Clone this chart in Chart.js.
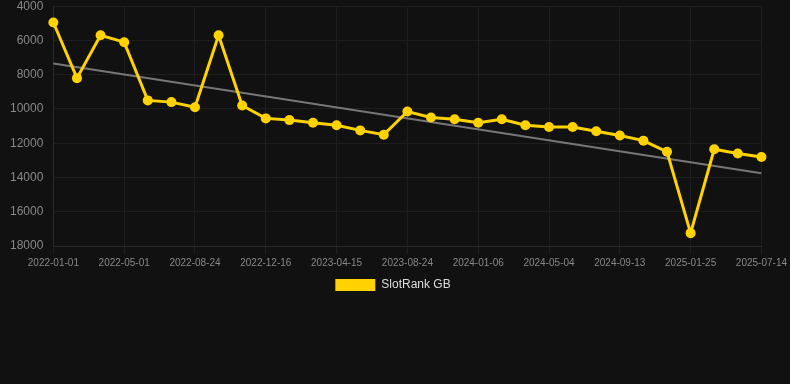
<!DOCTYPE html>
<html>
<head>
<meta charset="utf-8">
<script src="https://cdn.jsdelivr.net/npm/chart.js@4/dist/chart.umd.min.js"></script>
<style>
  html, body { margin: 0; padding: 0; background: #111111; }
  #outer { width: 790px; height: 384px; position: relative; overflow: hidden; }
  #wrap { width: 790px; height: 395px; position: absolute; left: 0; top: -11px; }
</style>
</head>
<body>
<div id="outer"><div id="wrap"><canvas id="c"></canvas></div></div>
<script>
const categories = [
  "2022-01-01","2022-02-10","2022-03-22","2022-05-01","2022-06-08","2022-07-16",
  "2022-08-24","2022-10-01","2022-11-08","2022-12-16","2023-01-25","2023-03-06",
  "2023-04-15","2023-05-29","2023-07-11","2023-08-24","2023-10-08","2023-11-22",
  "2024-01-06","2024-02-15","2024-03-25","2024-05-04","2024-06-17","2024-07-31",
  "2024-09-13","2024-10-28","2024-12-12","2025-01-25","2025-03-23","2025-05-19",
  "2025-07-14"
];
const slotRankGB = [
  4950, 8200, 5700, 6100, 9500, 9600, 9900, 5700, 9800, 10550, 10650, 10800,
  10950, 11250, 11500, 10150, 10500, 10600, 10800, 10600, 10950, 11050, 11050,
  11300, 11550, 11850, 12500, 17250, 12350, 12600, 12800
];
const trendStart = 7350;
const trendEnd = 13750;
const trendLine = categories.map((_, i) => i === 0 ? trendStart : (i === categories.length - 1 ? trendEnd : null));
const yTicks = [4000, 6000, 8000, 10000, 12000, 14000, 16000, 18000];

Chart.defaults.font.family = "'Liberation Sans', Arial, Helvetica, sans-serif";

new Chart(document.getElementById('c'), {
  type: 'line',
  data: {
    labels: categories,
    datasets: [
      {
        label: 'SlotRank GB',
        data: slotRankGB,
        borderColor: '#FFD200',
        backgroundColor: '#FFD200',
        borderWidth: 3,
        pointRadius: 5,
        pointHoverRadius: 5,
        pointBackgroundColor: '#FFD200',
        pointBorderColor: '#FFD200',
        pointBorderWidth: 0,
        tension: 0,
        clip: false,
        order: 1
      },
      {
        label: 'trend',
        data: trendLine,
        borderColor: 'rgba(130,130,130,0.9)',
        backgroundColor: 'rgba(130,130,130,0.9)',
        borderWidth: 2,
        pointRadius: 0,
        spanGaps: true,
        tension: 0,
        order: 2
      }
    ]
  },
  options: {
    responsive: true,
    maintainAspectRatio: false,
    animation: false,
    layout: { autoPadding: false, padding: { top: 6, right: 4, bottom: 83, left: 0 } },
    plugins: {
      legend: {
        position: 'bottom',
        labels: {
          color: '#dddddd',
          font: { size: 12 },
          boxWidth: 40,
          boxHeight: 12,
          padding: 7,
          filter: (item) => item.text === 'SlotRank GB',
          generateLabels: (chart) => {
            const items = Chart.defaults.plugins.legend.labels.generateLabels(chart);
            items.forEach(it => { it.lineWidth = 0; it.strokeStyle = 'transparent'; });
            return items;
          }
        }
      },
      tooltip: { enabled: false }
    },
    scales: {
      x: {
        type: 'category',
        offset: false,
        grid: { color: '#1e1e1e', drawTicks: true, tickLength: 8 },
        border: { color: '#2a2a2a' },
        ticks: {
          color: '#888888',
          font: { size: 10 },
          padding: 3,
          autoSkip: false,
          maxRotation: 0,
          callback: function(value, index) {
            return index % 3 === 0 ? categories[index] : null;
          }
        }
      },
      y: {
        reverse: true,
        min: 4000,
        max: 18000,
        afterBuildTicks: (axis) => { axis.ticks = yTicks.map(v => ({ value: v })); },
        grid: { color: '#1e1e1e', drawTicks: false },
        border: { color: '#2a2a2a' },
        ticks: {
          color: '#888888',
          font: { size: 12 },
          padding: 10,
          callback: (v) => String(v)
        }
      }
    }
  }
});
</script>
</body>
</html>
